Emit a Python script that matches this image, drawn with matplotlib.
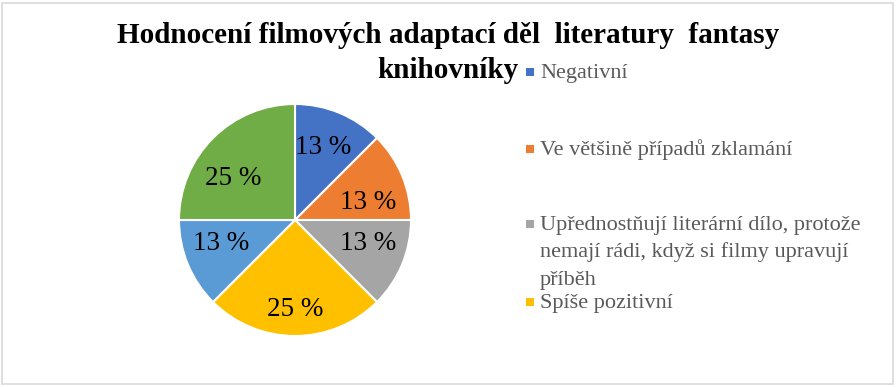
import matplotlib
matplotlib.use("Agg")
import matplotlib.pyplot as plt
from matplotlib.patches import Rectangle
from decimal import Decimal, ROUND_HALF_UP

title_lines = ["Hodnocení filmových adaptací děl  literatury  fantasy", "knihovníky"]
categories = [
    "Negativní",
    "Ve většině případů zklamání",
    "Upřednostňují literární dílo, protože\nnemají rádi, když si filmy upravují\npříběh",
    "Spíše pozitivní",
    "Pozitivní",
    "Velmi pozitivní",
]
values = [1, 1, 1, 2, 1, 2]
colors = ["#4472C4", "#ED7D31", "#A5A5A5", "#FFC000", "#5B9BD5", "#70AD47"]
legend_shown = 4
# label placement inside the pie (fractions of radius, "best fit" like the original)
label_pos = [(0.24, 0.625), (0.63, 0.155), (0.63, -0.205), (0.0, -0.775), (-0.64, -0.205), (-0.53, 0.355)]

W, H = 896, 387
fig = plt.figure(figsize=(W / 100, H / 100), dpi=100)
plt.rcParams["font.family"] = ["Liberation Serif", "DejaVu Serif"]


def fx(px):
    return px / W


def fy(py):
    return 1 - py / H


# border
fig.patches.append(Rectangle((fx(1.5), fy(384)), (893 - 1.5) / W, (384 - 2.5) / H,
                             transform=fig.transFigure, fill=False,
                             edgecolor="#D9D9D9", linewidth=1.2))

# pie axes: center (295,220), radius 116
cx, cy, r = 295, 220, 116
ax = fig.add_axes([fx(cx - r), fy(cy + r), 2 * r / W, 2 * r / H])


def fmt(p):
    return f"{Decimal(str(p)).quantize(Decimal('1'), rounding=ROUND_HALF_UP)} %"


wedges, texts, autotexts = ax.pie(
    values, colors=colors, startangle=90, counterclock=False,
    autopct=fmt, pctdistance=0.68, radius=1.0,
    wedgeprops=dict(edgecolor="white", linewidth=1.5),
    textprops=dict(fontsize=19.5, color="black"),
)
for t, p in zip(autotexts, label_pos):
    t.set_position(p)
ax.set_xlim(-1.0, 1.0)
ax.set_ylim(-1.0, 1.0)
ax.set_aspect("equal")

# title
for line, base in zip(title_lines, [43, 78]):
    fig.text(fx(448), fy(base), line, ha="center", va="baseline",
             fontsize=21, fontweight="bold")

# legend (manual)
entry_base = [78, 155, 230, 308]
for i in range(legend_shown):
    b = entry_base[i]
    fig.patches.append(Rectangle((fx(526), fy(b - 2)), 8 / W, 8 / H,
                                 transform=fig.transFigure,
                                 facecolor=colors[i], edgecolor="none"))
    for k, line in enumerate(categories[i].split("\n")):
        fig.text(fx(540), fy(b + k * 27.5), line, ha="left", va="baseline",
                 fontsize=16, color="#595959")

fig.savefig("out.png", dpi=100)
